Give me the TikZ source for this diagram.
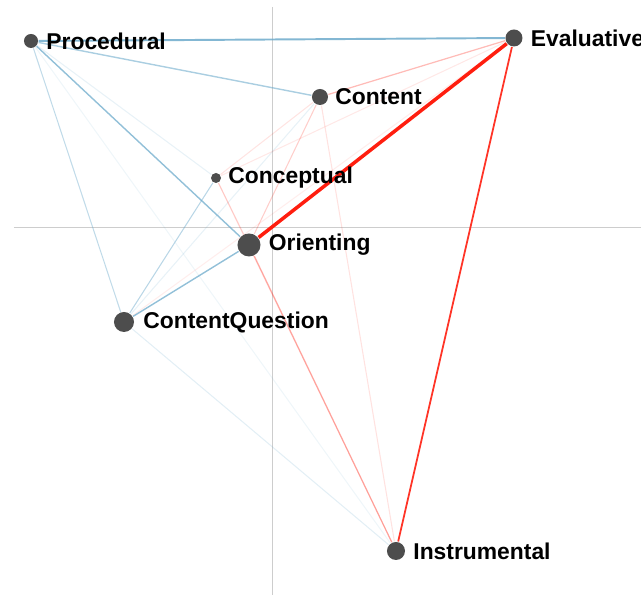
\documentclass[tikz,border=0pt]{standalone}
\usepackage{fontspec}
\setsansfont{Liberation Sans}
\usepackage{tikz}
\usetikzlibrary{positioning,backgrounds}

\definecolor{dotgray}{RGB}{77,77,77}
\definecolor{axisgray}{RGB}{205,205,205}
\definecolor{netblue}{RGB}{100,165,200}
\definecolor{netred}{RGB}{255,30,15}

\tikzset{
    dot/.style={circle, fill=dotgray, inner sep=0pt},
    lab/.style={font=\sffamily\bfseries\fontsize{6.5pt}{7pt}\selectfont, inner sep=0pt, text=black},
    axis/.style={draw=axisgray, line width=0.28pt},
    blueE/.style={draw=netblue, line width=#1},
    redE/.style={draw=netred, line width=#1},
}

\begin{document}
\begin{tikzpicture}[x=0.01cm, y=-0.01cm]
    \useasboundingbox (0,0) rectangle (641,595);

    % codes
    \node[dot, minimum size=0.14cm](proc) at (31,41) {};
    \node[dot, minimum size=0.17cm](eval) at (514,38) {};
    \node[dot, minimum size=0.16cm](cont) at (320,97) {};
    \node[dot, minimum size=0.10cm](conc) at (216,178) {};
    \node[dot, minimum size=0.23cm](ori) at (249,245) {};
    \node[dot, minimum size=0.20cm](cq) at (124,322) {};
    \node[dot, minimum size=0.18cm](instr) at (396,551) {};

    \node[lab, right=0.07cm of proc](procL) {Procedural};
    \node[lab, right=0.07cm of eval](evalL) {Evaluative};
    \node[lab, right=0.06cm of cont](contL) {Content};
    \node[lab, right=0.06cm of conc](concL) {Conceptual};
    \node[lab, right=0.07cm of ori](oriL) {Orienting};
    \node[lab, right=0.08cm of cq](cqL) {ContentQuestion};
    \node[lab, right=0.07cm of instr](instrL) {Instrumental};

    \coordinate (vtop) at (272,7);
    \coordinate (vbot) at (272,595);
    \coordinate (hleft) at (14,228);
    \coordinate (hright) at (641,228);

    \begin{scope}[on background layer]
    % axes
    \draw[axis] (vtop) -- (vbot);
    \draw[axis] (hleft) -- (hright);

    % faint links
    \draw[blueE=0.3pt, opacity=0.15] (proc) -- (conc);
    \draw[blueE=0.3pt, opacity=0.1] (proc) -- (instr);
    \draw[blueE=0.3pt, opacity=0.15] (cont) -- (cq);
    \draw[blueE=0.3pt, opacity=0.18] (cq) -- (instr);
    \draw[redE=0.3pt, opacity=0.1] (eval) -- (conc);
    \draw[redE=0.3pt, opacity=0.08] (eval) -- (cq);
    \draw[redE=0.3pt, opacity=0.12] (cont) -- (conc);
    \draw[redE=0.3pt, opacity=0.15] (conc) -- (ori);
    \draw[redE=0.3pt, opacity=0.12] (conc) -- (instr);
    \draw[redE=0.3pt, opacity=0.22] (cont) -- (ori);
    \draw[redE=0.3pt, opacity=0.13] (cont) -- (instr);

    % blue links
    \draw[blueE=0.3pt, opacity=0.4] (proc) -- (cq);
    \draw[blueE=0.3pt, opacity=0.45] (conc) -- (cq);
    \draw[blueE=0.4pt, opacity=0.55] (proc) -- (cont);
    \draw[blueE=0.4pt, opacity=0.7] (proc) -- (ori);
    \draw[blueE=0.4pt, opacity=0.7] (ori) -- (cq);
    \draw[blueE=0.55pt, opacity=0.8] (proc) -- (eval);

    % red links
    \draw[redE=0.35pt, opacity=0.3] (eval) -- (cont);
    \draw[redE=0.35pt, opacity=0.35] (ori) -- (instr);
    \draw[redE=0.5pt, opacity=0.9] (eval) -- (instr);
    \draw[redE=1.0pt] (eval) -- (ori);
    \end{scope}
\end{tikzpicture}
\end{document}
